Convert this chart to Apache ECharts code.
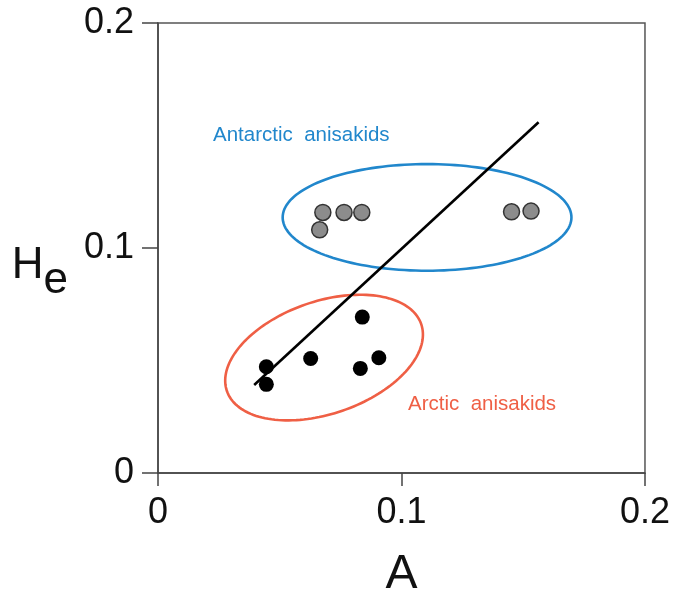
<!DOCTYPE html>
<html>
<head>
<meta charset="utf-8">
<script src="https://cdn.jsdelivr.net/npm/echarts@6/dist/echarts.min.js"></script>
<style>html,body{margin:0;padding:0;background:#fff;}#c{width:673px;height:604px;}</style>
</head>
<body>
<div id="c"></div>
<script>
// ---- data ----
const xTicks = [0, 0.1, 0.2];
const yTicks = [0, 0.1, 0.2];
const arcticPoints = [
  [0.0445, 0.0472], [0.0445, 0.0394], [0.0627, 0.0509],
  [0.0839, 0.0693], [0.0831, 0.0465], [0.0907, 0.0512]
];
const antarcticPoints = [
  [0.0677, 0.1158], [0.0664, 0.1081], [0.0764, 0.1158],
  [0.0837, 0.1158], [0.1452, 0.1161], [0.1532, 0.1164]
];
const trendLine = [[0.0395, 0.0391], [0.1563, 0.1559]];
// ellipses: [centerX, centerY, semiMajor (x units), semiMinor (x units), angle deg]
const antarcticEllipse = [[0.1105, 0.1136, 0.0593, 0.0219, 0]];
const arcticEllipse = [[0.0682, 0.0513, 0.0422, 0.0231, 19]];
const groupLabels = ['Antarctic  anisakids', 'Arctic  anisakids'];

const FONT = '"Liberation Sans", Arial, Helvetica, sans-serif';
const BLUE = '#2187cc';
const RED = '#ef5f45';

function ellipseRenderer(color) {
  return function (params, api) {
    const c = api.coord([api.value(0), api.value(1)]);
    const s = api.size([1, 1]);
    const a = api.value(2) * s[0];
    const b = api.value(3) * s[0];
    const th = api.value(4) * Math.PI / 180;
    const pts = [];
    const n = 160;
    for (let i = 0; i < n; i++) {
      const t = 2 * Math.PI * i / n;
      const u = a * Math.cos(t), v = b * Math.sin(t);
      pts.push([c[0] + u * Math.cos(th) + v * Math.sin(th),
                c[1] - u * Math.sin(th) + v * Math.cos(th)]);
    }
    return {
      type: 'polygon',
      shape: { points: pts },
      style: { fill: 'none', stroke: color, lineWidth: 2.6 }
    };
  };
}

const chart = echarts.init(document.getElementById('c'), null, { renderer: 'canvas' });
chart.setOption({
  animation: false,
  backgroundColor: '#ffffff',
  grid: {
    left: 158, right: 27, top: 23, bottom: 129,
    show: true, borderColor: '#555', borderWidth: 1.5, backgroundColor: 'transparent'
  },
  xAxis: {
    type: 'value', min: xTicks[0], max: xTicks[xTicks.length - 1], interval: 0.1,
    name: 'A', nameLocation: 'middle', nameGap: 78,
    nameTextStyle: { fontSize: 48, color: '#111', fontFamily: FONT },
    axisLine: { show: true, lineStyle: { color: '#444', width: 1.5 } },
    axisTick: { show: true, inside: false, length: 13, lineStyle: { color: '#444', width: 1.5 } },
    axisLabel: { fontSize: 36, color: '#111', fontFamily: FONT, margin: 22,
      formatter: v => String(+v.toFixed(1)) },
    splitLine: { show: false }
  },
  yAxis: {
    type: 'value', min: yTicks[0], max: yTicks[yTicks.length - 1], interval: 0.1,
    name: '{h|H}{e|e}', nameLocation: 'middle', nameGap: 90, nameRotate: 0,
    nameTextStyle: {
      fontFamily: FONT, color: '#111', padding: [50, 0, 0, 0],
      rich: {
        h: { fontSize: 44, lineHeight: 44, fontFamily: FONT, color: '#111', verticalAlign: 'top' },
        e: { fontSize: 44, lineHeight: 59, fontFamily: FONT, color: '#111', verticalAlign: 'bottom' }
      }
    },
    axisLine: { show: true, lineStyle: { color: '#444', width: 1.5 } },
    axisTick: { show: true, inside: false, length: 16, lineStyle: { color: '#444', width: 1.5 } },
    axisLabel: { fontSize: 36, color: '#111', fontFamily: FONT, margin: 24,
      formatter: v => String(+v.toFixed(1)) },
    splitLine: { show: false }
  },
  series: [
    {
      type: 'custom', name: 'antarcticEllipse', renderItem: ellipseRenderer(BLUE),
      data: antarcticEllipse, encode: { x: 0, y: 1 }, clip: false, z: 1, silent: true
    },
    {
      type: 'custom', name: 'arcticEllipse', renderItem: ellipseRenderer(RED),
      data: arcticEllipse, encode: { x: 0, y: 1 }, clip: false, z: 1, silent: true
    },
    {
      type: 'line', data: trendLine, showSymbol: false, symbol: 'none',
      lineStyle: { color: '#000', width: 2.6 }, z: 2, silent: true
    },
    {
      type: 'scatter', data: antarcticPoints, symbolSize: 16,
      itemStyle: { color: '#8c8c8c', borderColor: '#333', borderWidth: 1.5, opacity: 1 }, z: 3
    },
    {
      type: 'scatter', data: arcticPoints, symbolSize: 15,
      itemStyle: { color: '#000', opacity: 1 }, z: 3
    }
  ],
  graphic: [
    { type: 'text', left: 213, top: 125,
      style: { text: groupLabels[0], fill: BLUE, fontSize: 20.5, fontFamily: FONT } },
    { type: 'text', left: 408, top: 394,
      style: { text: groupLabels[1], fill: RED, fontSize: 20.5, fontFamily: FONT } }
  ]
});
</script>
</body>
</html>
